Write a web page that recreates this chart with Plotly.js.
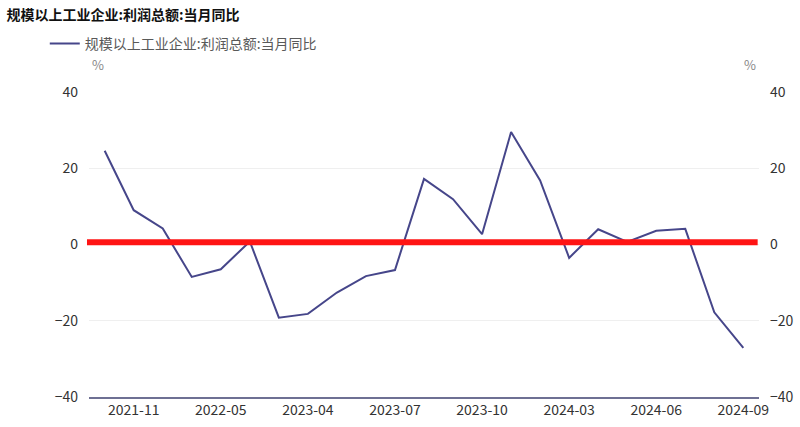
<!DOCTYPE html>
<html>
<head>
<meta charset="utf-8">
<script src="https://cdn.plot.ly/plotly-3.0.1.min.js"></script>
<style>html,body{margin:0;padding:0;background:#fff;}#chart{width:800px;height:427px;}</style>
</head>
<body>
<div id="chart"></div>
<script>
const months = ["2021-10","2021-11","2021-12","2022-04","2022-05","2022-06","2023-03","2023-04","2023-05","2023-06","2023-07","2023-08","2023-09","2023-10","2023-11","2023-12","2024-03","2024-04","2024-05","2024-06","2024-07","2024-08","2024-09"];
const profitYoY = [24.6, 9.0, 4.2, -8.5, -6.5, 0.8, -19.2, -18.2, -12.6, -8.3, -6.7, 17.2, 11.9, 2.7, 29.5, 16.8, -3.5, 4.0, 0.7, 3.6, 4.1, -17.8, -27.1];
const tickMonths = ["2021-11","2022-05","2023-04","2023-07","2023-10","2024-03","2024-06","2024-09"];
const yTicks = [-40, -20, 0, 20, 40];
const seriesName = "规模以上工业企业:利润总额:当月同比";

const font = "'Noto Sans CJK SC', 'Noto Sans', sans-serif";

const traces = [
  {x: months, y: profitYoY, type: "scatter", mode: "lines", name: seriesName,
   line: {color: "#46468a", width: 2}, yaxis: "y"},
  {x: months, y: profitYoY, type: "scatter", mode: "lines", showlegend: false,
   hoverinfo: "skip", line: {color: "rgba(0,0,0,0)", width: 0}, yaxis: "y2"}
];

const layout = {
  width: 800, height: 427,
  margin: {l: 89, r: 41, t: 92, b: 30},
  paper_bgcolor: "#fff", plot_bgcolor: "#fff",
  font: {family: font, size: 14, color: "#333"},
  title: {text: "<b>" + seriesName + "</b>", x: 0.008, xanchor: "left", y: 0.965, yanchor: "middle",
          font: {family: font, size: 14, color: "#111"}},
  showlegend: true,
  legend: {orientation: "h", x: -0.066, xanchor: "left", y: 1.158, yanchor: "middle",
           font: {family: font, size: 14, color: "#595959"}, bgcolor: "rgba(0,0,0,0)"},
  xaxis: {type: "category", range: [-0.54, 22.54], tickmode: "array", tickvals: tickMonths,
          ticktext: tickMonths, showgrid: false, zeroline: false, showline: true,
          linecolor: "#6e7093", linewidth: 1.5, ticks: "", tickfont: {size: 14, color: "#333"}},
  yaxis: {range: [-40, 40], tickvals: yTicks, showgrid: true, gridcolor: "#efefef", gridwidth: 1,
          zeroline: false, showline: false, ticks: "", ticklabelstandoff: 10,
          tickfont: {size: 14, color: "#333"}},
  yaxis2: {range: [-40, 40], tickvals: yTicks, overlaying: "y", side: "right", showgrid: false,
           zeroline: false, showline: false, ticks: "", ticklabelstandoff: 10,
           tickfont: {size: 14, color: "#333"}},
  shapes: [
    {type: "line", xref: "paper", x0: -0.003, x1: 0.998, yref: "y", y0: 0.6, y1: 0.6,
     line: {color: "#ff1414", width: 6}, layer: "above"}
  ],
  annotations: [
    {text: "%", xref: "paper", yref: "paper", x: -0.0, xanchor: "left", y: 1.09, yanchor: "middle",
     showarrow: false, font: {family: font, size: 13, color: "#888"}, xshift: 1},
    {text: "%", xref: "paper", yref: "paper", x: 1.0, xanchor: "right", y: 1.09, yanchor: "middle",
     showarrow: false, font: {family: font, size: 13, color: "#888"}, xshift: -1}
  ]
};

Plotly.newPlot("chart", traces, layout, {displayModeBar: false, staticPlot: true});
</script>
</body>
</html>
